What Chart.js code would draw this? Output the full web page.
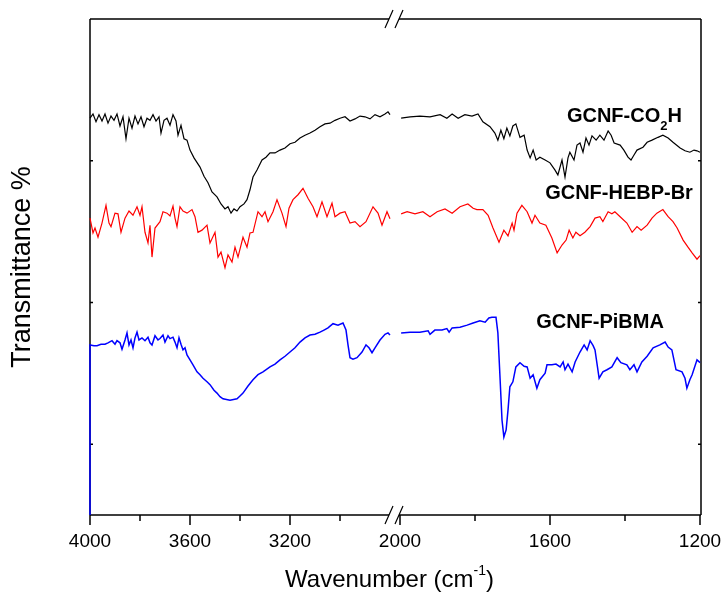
<!DOCTYPE html>
<html>
<head>
<meta charset="utf-8">
<script src="https://cdn.jsdelivr.net/npm/chart.js@4.4.1/dist/chart.umd.min.js"></script>
<style>
  html, body { margin: 0; padding: 0; background: #fff; }
  #wrap { width: 726px; height: 594px; }
</style>
</head>
<body>
<div id="wrap"><canvas id="ftir"></canvas></div>
<script>
const seriesNames = ['GCNF-CO2H', 'GCNF-HEBP-Br', 'GCNF-PiBMA'];
const seriesColors = ['#000000', '#ff0000', '#0000ff'];
const xMajorTicks = [4000, 3600, 3200, 2000, 1600, 1200];
const xMinorTicks = [3800, 3400, 3000, 1800, 1400];
const yTicks = [20, 40, 60];
// label anchors: [wavenumber, transmittance] of the text start / baseline
const labelAnchors = [[1555, 65.5], [1613, 54.6], [1637, 36.4]];

const co2hWn = [4000,3988,3976,3964,3952,3940,3928,3916,3904,3892,3880,3868,3856,3844,3832,3820,3808,3796,3784,3772,3760,3748,3736,3724,
  3716,3704,3692,3680,3668,3656,3648,3636,3624,3612,3600,3584,3560,3544,3528,3512,3492,3476,3460,3448,3436,3424,3412,3400,
  3384,3372,3360,3348,3332,3312,3296,3280,3260,3240,3220,3200,3180,3160,3140,3120,3100,3080,3060,3040,3020,3000,2980,2960,
  2940,2920,2900,2880,2860,2840,2820,2808,2800,
  1997,1973,1947,1920,1893,1875,1861,1845,1827,1808,1792,1779,1760,1747,1739,1731,1723,1715,1707,1699,1691,1680,1669,1661,
  1653,1645,1637,1627,1613,1600,1587,1579,1568,1560,1552,1547,1536,1528,1520,1512,1504,1496,1488,1477,1467,1456,1445,1437,
  1429,1413,1403,1392,1384,1376,1368,1352,1341,1328,1312,1299,1285,1272,1253,1240,1227,1216,1208,1200];
const co2hT = [66.0,66.6,65.5,66.5,65.6,66.6,65.3,66.3,65.7,66.6,64.9,66.2,63.1,66.0,64.6,66.3,65.2,66.2,64.8,66.0,65.7,66.5,65.6,66.2,
  63.9,65.7,66.0,65.0,66.5,65.6,63.6,65.0,63.1,62.9,61.5,60.4,59.1,57.8,56.9,55.6,54.9,53.9,53.2,53.5,52.6,53.2,52.9,53.5,
  53.9,54.5,55.9,57.7,58.7,60.1,60.5,61.1,61.1,61.5,61.8,62.4,62.6,63.2,63.6,63.9,64.3,64.8,65.2,65.3,65.7,66.0,66.2,65.6,
  65.9,66.3,66.2,65.9,66.5,66.2,66.6,66.9,66.5,
  66.0,66.2,66.3,66.2,66.5,66.0,66.6,66.0,66.5,66.3,66.6,65.5,64.8,63.9,62.9,64.3,63.1,64.6,63.5,64.9,65.2,63.3,63.6,61.5,
  60.4,61.5,60.1,60.5,60.1,59.7,58.7,58.0,60.1,57.7,60.4,61.2,60.1,62.2,62.5,61.2,63.2,62.2,63.5,62.9,63.6,62.9,64.2,63.6,
  62.5,62.2,61.5,60.5,60.1,60.8,61.5,61.9,62.6,62.9,63.3,63.6,63.2,62.6,61.8,61.4,61.2,61.5,61.4,61.2];

const hebpWn = [4000,3988,3980,3968,3952,3936,3924,3916,3900,3888,3876,3860,3844,3828,3812,3800,3792,3780,3768,3760,
  3752,3740,3720,3708,3692,3680,3668,3660,3652,3640,3628,3612,3592,3580,3568,3552,3532,3520,3500,3488,
  3476,3460,3448,3432,3420,3408,3388,3372,3360,3348,3328,3312,3300,3288,3268,3252,3232,3216,3204,3188,
  3168,3148,3128,3108,3092,3072,3052,3032,3020,3000,2980,2960,2940,2920,2896,2868,2848,2832,2812,2800,
  1997,1981,1960,1939,1920,1901,1880,1861,1840,1819,1805,1795,1779,1765,1752,1736,1723,1712,1701,1696,
  1688,1675,1661,1648,1640,1627,1611,1595,1581,1568,1557,1549,1539,1531,1520,1507,1493,1480,1467,1459,
  1445,1435,1427,1413,1395,1381,1368,1357,1341,1328,1315,1299,1285,1272,1261,1245,1232,1221,1208,1200];
const hebpT = [51.9,49.8,50.5,49.2,51.2,53.7,51.2,50.7,52.6,52.5,49.9,51.9,52.9,52.3,53.5,52.3,53.5,49.9,48.4,50.9,
  46.4,50.5,51.4,52.8,52.6,52.2,53.6,51.9,50.7,53.5,52.9,52.6,53.1,52.1,49.9,50.2,50.9,48.4,49.9,46.4,
  47.1,44.9,46.7,45.7,47.8,46.4,49.2,47.8,49.8,49.9,52.8,52.1,52.8,51.4,52.8,54.5,52.6,50.7,53.3,54.5,
  55.2,56.1,54.7,53.5,52.1,54.2,52.1,54.0,52.1,52.6,52.8,51.2,51.4,50.7,51.4,53.5,52.6,50.9,52.8,51.8,
  52.5,52.8,52.5,52.8,52.1,52.8,53.2,52.6,53.5,53.9,53.3,53.1,53.1,52.3,50.5,48.5,50.2,49.4,51.2,50.2,
  52.6,53.7,52.8,51.2,52.3,51.2,50.9,49.1,47.0,48.1,48.8,50.2,49.1,49.9,49.4,49.9,50.7,51.9,52.1,51.4,
  52.8,52.5,52.8,52.1,51.2,49.9,50.7,50.2,50.9,51.9,52.6,53.1,52.1,51.4,50.5,48.8,47.8,47.0,46.1,46.6];

const pibmaWn = [4000,4000,3984,3972,3956,3940,3928,3912,3900,3892,3880,3872,3860,3852,3844,3836,3828,3820,3812,3804,
  3792,3780,3768,3760,3752,3740,3728,3720,3708,3700,3688,3680,3668,3660,3652,3644,3636,3628,3620,3612,
  3600,3588,3572,3560,3548,3532,3520,3504,3492,3480,3468,3440,3412,3400,3388,3368,3348,3328,3308,3280,
  3260,3240,3220,3200,3180,3160,3140,3120,3100,3080,3064,3048,3028,3008,2988,2976,2968,2960,2948,2932,
  2912,2896,2884,2872,2860,2840,2820,2808,2800,
  1997,1973,1947,1925,1920,1907,1888,1875,1869,1861,1840,1821,1805,1787,1773,1763,1755,1744,1739,1733,
  1728,1723,1717,1712,1707,1699,1691,1680,1669,1661,1653,1645,1635,1627,1613,1608,1595,1584,1573,1565,
  1560,1552,1541,1533,1520,1509,1501,1493,1485,1480,1469,1459,1448,1435,1421,1411,1395,1387,1376,1368,
  1355,1341,1325,1307,1293,1285,1275,1264,1248,1240,1235,1227,1221,1208,1200];
const pibmaT = [10,34.0,33.9,33.9,34.1,34.1,34.3,34.6,34.1,34.6,34.3,33.4,34.7,35.7,34.0,34.7,33.6,35.0,35.8,34.7,
  35.0,34.6,35.1,34.3,34.0,35.3,34.7,34.9,35.4,34.4,35.3,34.9,35.1,34.4,33.6,35.0,34.1,33.3,33.6,32.6,
  31.9,31.2,30.2,29.8,29.3,28.8,28.4,27.6,27.2,26.7,26.4,26.2,26.4,26.8,27.2,28.2,29.1,29.8,30.2,30.9,
  31.3,31.9,32.4,33.0,33.6,34.4,35.0,35.4,35.5,35.8,36.1,36.4,37.0,36.8,37.1,36.1,34.0,32.2,32.0,32.2,
  33.0,34.0,33.6,32.9,33.6,34.7,35.5,35.7,35.4,
  35.7,35.8,35.8,36.0,35.5,36.1,36.1,36.3,35.8,36.4,36.5,36.8,37.1,37.4,37.2,37.8,37.9,37.9,35.7,29.1,
  23.4,21.0,22.0,24.8,28.1,28.8,30.9,31.5,31.0,30.9,29.3,29.8,27.9,29.1,30.0,31.2,31.2,31.3,30.9,31.6,
  30.5,31.3,30.2,31.6,33.0,34.0,33.3,34.6,33.9,33.3,29.3,30.2,30.5,30.9,32.2,31.5,31.2,30.5,31.2,30.2,
  31.6,32.4,33.6,34.0,34.4,33.7,33.3,30.5,30.2,29.3,27.9,29.1,29.8,31.9,31.5];

// broken axis: 4000-2800 at 100 units per 400 cm-1, 2000-1200 at 150 units per 400 cm-1
const BREAK_POS = 304;
function wnToPos(w) {
  return w > 2400 ? (4000 - w) / 4 : 310 + (2000 - w) * 0.375;
}

function buildPoints(wn, t) {
  const pts = [];
  wn.forEach((w, i) => {
    if (i > 0 && wn[i - 1] > 2400 && w <= 2400) pts.push({ x: BREAK_POS, y: null });
    pts.push({ x: wnToPos(w), y: t[i] });
  });
  return pts;
}

const FONT = '"Liberation Sans", Arial, Helvetica, sans-serif';
Chart.defaults.font.family = FONT;
Chart.defaults.color = '#000';

const frame = {
  id: 'frame',
  beforeDatasetsDraw(chart) {
    const { ctx, chartArea: a, scales: { x, y } } = chart;
    const bx = x.getPixelForValue(BREAK_POS);
    ctx.save();
    ctx.strokeStyle = '#000';
    ctx.lineWidth = 1.5;
    ctx.beginPath();
    ctx.moveTo(a.left, a.top); ctx.lineTo(a.left, a.bottom);
    ctx.moveTo(a.right, a.top); ctx.lineTo(a.right, a.bottom);
    [a.top, a.bottom].forEach(yy => {
      ctx.moveTo(a.left, yy); ctx.lineTo(bx - 5, yy);
      ctx.moveTo(bx + 5, yy); ctx.lineTo(a.right, yy);
    });
    xMajorTicks.forEach(w => {
      const px = x.getPixelForValue(wnToPos(w));
      ctx.moveTo(px, a.bottom); ctx.lineTo(px, a.bottom + 10);
    });
    xMinorTicks.forEach(w => {
      const px = x.getPixelForValue(wnToPos(w));
      ctx.moveTo(px, a.bottom); ctx.lineTo(px, a.bottom + 6);
    });
    yTicks.forEach(v => {
      const py = y.getPixelForValue(v);
      ctx.moveTo(a.left, py); ctx.lineTo(a.left + 3, py);
      ctx.moveTo(a.right, py); ctx.lineTo(a.right - 3, py);
    });
    ctx.stroke();
    // break marks
    ctx.lineWidth = 1.2;
    ctx.beginPath();
    [a.top, a.bottom].forEach(yy => {
      [-5, 5].forEach(d => {
        ctx.moveTo(bx + d - 4, yy + 9); ctx.lineTo(bx + d + 4, yy - 9);
      });
    });
    ctx.stroke();
    ctx.restore();
  },
  afterDraw(chart) {
    const { ctx, chartArea: a, scales: { x, y } } = chart;
    ctx.save();
    ctx.fillStyle = '#000';
    ctx.textBaseline = 'alphabetic';
    ctx.textAlign = 'left';
    // curve labels, digits drawn as subscripts
    seriesNames.forEach((name, i) => {
      let px = x.getPixelForValue(wnToPos(labelAnchors[i][0]));
      const py = y.getPixelForValue(labelAnchors[i][1]);
      name.split(/(\d)/).forEach((part, k) => {
        if (!part) return;
        const sub = k % 2 === 1;
        ctx.font = (sub ? 'bold 13px ' : 'bold 20px ') + FONT;
        ctx.fillText(part, px, sub ? py + 8 : py);
        px += ctx.measureText(part).width;
      });
    });
    // x axis title with superscript
    const parts = [['Wavenumber (cm', 24, 0], ['-1', 14, -12], [')', 24, 0]];
    let total = 0;
    parts.forEach(p => { ctx.font = p[1] + 'px ' + FONT; total += ctx.measureText(p[0]).width; });
    let tx = (a.left + a.right) / 2 - 6 - total / 2;
    parts.forEach(p => {
      ctx.font = p[1] + 'px ' + FONT;
      ctx.fillText(p[0], tx, 587 + p[2]);
      tx += ctx.measureText(p[0]).width;
    });
    ctx.restore();
  }
};

new Chart(document.getElementById('ftir'), {
  type: 'line',
  data: {
    datasets: seriesNames.map((name, i) => ({
      label: name,
      data: buildPoints([co2hWn, hebpWn, pibmaWn][i], [co2hT, hebpT, pibmaT][i]),
      borderColor: seriesColors[i],
      borderWidth: i === 2 ? 1.5 : 1.2,
      pointRadius: 0,
      tension: 0,
      spanGaps: false,
      clip: 3
    }))
  },
  options: {
    responsive: true,
    maintainAspectRatio: false,
    animation: false,
    layout: { padding: { top: 19, right: 25, left: 0, bottom: 0 } },
    plugins: { legend: { display: false }, tooltip: { enabled: false } },
    scales: {
      x: {
        type: 'linear',
        min: 0,
        max: 611,
        grid: { display: false, drawTicks: false },
        border: { display: false },
        afterBuildTicks: scale => { scale.ticks = xMajorTicks.map(w => ({ value: wnToPos(w) })); },
        afterFit: scale => {
          scale.height = 79;
          scale.paddingLeft = 0;
          scale.paddingRight = 0;
        },
        ticks: {
          autoSkip: false,
          maxRotation: 0,
          padding: 15,
          font: { size: 19 },
          color: '#000',
          callback: (value, index) => xMajorTicks[index]
        }
      },
      y: {
        min: 10,
        max: 80,
        grid: { display: false, drawTicks: false },
        border: { display: false },
        ticks: { display: false },
        afterFit: scale => { scale.width = 90; },
        title: {
          display: true,
          text: 'Transmittance %',
          font: { size: 27 },
          color: '#000',
          padding: { top: 6, bottom: 0 }
        }
      }
    }
  },
  plugins: [frame]
});
</script>
</body>
</html>
